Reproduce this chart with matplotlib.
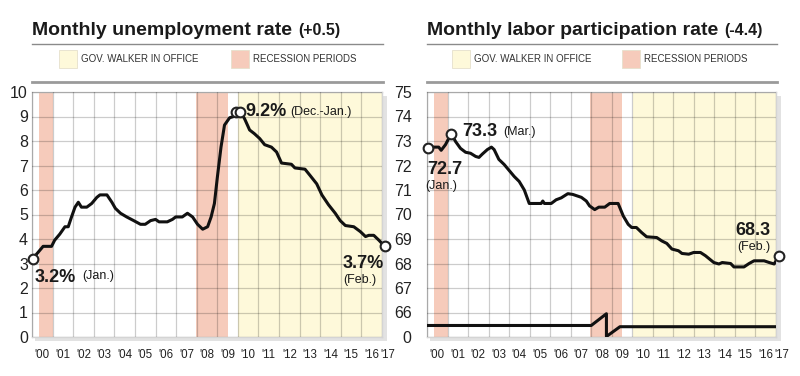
import matplotlib
matplotlib.use('Agg')
import matplotlib.pyplot as plt
from matplotlib import font_manager
from matplotlib.patches import Rectangle
from matplotlib.lines import Line2D
import matplotlib.transforms as mtransforms

# pick a narrow font if there is one
names = {f.name for f in font_manager.fontManager.ttflist}
NARROW = 'Liberation Sans Narrow' if 'Liberation Sans Narrow' in names else 'Liberation Sans'
plt.rcParams['font.family'] = [NARROW, 'DejaVu Sans']

# ---- data (decimal years) ----
unemp_years = [2000.04, 2000.54, 2000.95, 2001.10, 2001.35, 2001.60, 2001.76, 2001.92, 2002.09, 2002.25,
               2002.40, 2002.66, 2002.90, 2003.15, 2003.30, 2003.64, 2003.88, 2004.05, 2004.30, 2004.60,
               2004.94, 2005.27, 2005.50, 2005.76, 2006.00, 2006.17, 2006.57, 2006.82, 2006.98, 2007.30,
               2007.55, 2007.80, 2008.04, 2008.29, 2008.53, 2008.70, 2008.86, 2009.00, 2009.18, 2009.35,
               2009.60, 2009.80, 2009.93, 2010.12, 2010.33, 2010.57, 2010.80, 2011.06, 2011.30, 2011.63,
               2011.88, 2012.12, 2012.60, 2012.77, 2013.26, 2013.50, 2013.83, 2014.08, 2014.40, 2014.73,
               2014.97, 2015.22, 2015.63, 2015.95, 2016.20, 2016.36, 2016.60, 2016.85, 2017.13]
unemp_rate = [3.2, 3.7, 3.7, 3.95, 4.2, 4.5, 4.5, 4.9, 5.3, 5.5,
              5.3, 5.3, 5.45, 5.7, 5.8, 5.8, 5.5, 5.25, 5.05, 4.9,
              4.75, 4.6, 4.6, 4.75, 4.8, 4.7, 4.7, 4.8, 4.9, 4.9,
              5.05, 4.9, 4.6, 4.4, 4.5, 4.9, 5.45, 6.5, 7.75, 8.65,
              8.95, 9.0, 9.2, 9.2, 8.9, 8.45, 8.3, 8.1, 7.85, 7.75,
              7.55, 7.1, 7.05, 6.9, 6.85, 6.6, 6.25, 5.8, 5.4, 5.05,
              4.75, 4.55, 4.5, 4.3, 4.1, 4.15, 4.15, 3.95, 3.7]

labor_years = [2000.04, 2000.25, 2000.57, 2000.69, 2000.90, 2001.18, 2001.39, 2001.63, 2001.88, 2002.12,
               2002.37, 2002.53, 2002.70, 2002.94, 2003.14, 2003.27, 2003.50, 2003.76, 2004.00, 2004.25,
               2004.49, 2004.74, 2004.98, 2005.23, 2005.56, 2005.64, 2005.72, 2006.05, 2006.29, 2006.54,
               2006.86, 2007.10, 2007.52, 2007.76, 2007.92, 2008.17, 2008.37, 2008.66, 2008.90, 2009.31,
               2009.56, 2009.80, 2009.97, 2010.20, 2010.46, 2010.70, 2011.19, 2011.44, 2011.68, 2011.93,
               2012.25, 2012.42, 2012.75, 2012.99, 2013.32, 2013.56, 2013.97, 2014.22, 2014.38, 2014.79,
               2014.95, 2015.44, 2015.69, 2015.93, 2016.42, 2016.67, 2016.91, 2017.13]
labor_rate = [72.7, 72.75, 72.75, 72.62, 72.85, 73.3, 72.98, 72.7, 72.54, 72.5,
              72.37, 72.33, 72.47, 72.65, 72.75, 72.65, 72.25, 72.04, 71.8, 71.55,
              71.35, 71.0, 70.45, 70.45, 70.45, 70.55, 70.45, 70.45, 70.6, 70.68,
              70.85, 70.82, 70.7, 70.55, 70.35, 70.2, 70.3, 70.3, 70.45, 70.45,
              69.94, 69.6, 69.47, 69.47, 69.26, 69.09, 69.06, 68.92, 68.82, 68.59,
              68.52, 68.41, 68.38, 68.45, 68.45, 68.32, 68.04, 67.98, 68.04, 68.0,
              67.86, 67.86, 68.0, 68.11, 68.11, 68.04, 67.98, 68.3]

# axis break squiggle on the participation chart
break_x = [2000.0, 2008.0, 2008.74, 2008.74, 2009.4, 2017.0]
break_y = [65.47, 65.47, 65.95, 65.02, 65.42, 65.42]

recessions = [(2000.33, 2001.0), (2007.95, 2009.5)]
walker = (2010.02, 2017.0)

year_labels = ["'00", "'01", "'02", "'03", "'04", "'05", "'06", "'07", "'08",
               "'09", "'10", "'11", "'12", "'13", "'14", "'15", "'16", "'17"]
year_label_pos = [2000.5 + i for i in range(17)] + [2017.3]

unemp_ticks = list(range(0, 11))
unemp_ticklabels = [str(v) for v in unemp_ticks]
labor_ticks = list(range(65, 76))
labor_ticklabels = ['0'] + [str(v) for v in range(66, 76)]

YELLOW = '#FEF9DA'
SALMON = '#F6CBBB'

W, H = 800, 376
fig = plt.figure(figsize=(8, 3.76), dpi=100)


def px(x, y):
    # pixel (from top-left) to figure fraction
    return x / W, 1 - y / H


def draw_panel(left_px, right_px, title, change, yticks, yticklabels, ylim, years, vals, tickpad):
    top_px, bot_px = 92, 337
    l, b = px(left_px, bot_px)
    ax = fig.add_axes([l, b, (right_px - left_px) / W, (bot_px - top_px) / H])

    # drop shadow behind the frame
    shadow = Rectangle(px(left_px + 3, bot_px + 4), (right_px - left_px + 2) / W, (bot_px - top_px) / H,
                       transform=fig.transFigure, facecolor='#e2e2e2', edgecolor='none', zorder=-5)
    fig.patches.append(shadow)

    for a, c in recessions:
        ax.axvspan(a, c, color=SALMON, lw=0, zorder=1)
    ax.axvspan(walker[0], walker[1], color=YELLOW, lw=0, zorder=1)

    ax.set_xlim(2000, 2017)
    ax.set_ylim(*ylim)
    ax.set_xticks(range(2000, 2018))
    ax.set_xticklabels([])
    ax.set_yticks(yticks)
    ax.set_yticklabels(yticklabels, fontsize=11.5, color='#222222')
    ax.tick_params(axis='both', length=0)
    ax.tick_params(axis='y', pad=tickpad)
    ax.grid(True, color='black', alpha=0.2, lw=0.9, zorder=2)
    ax.set_axisbelow(False)
    for s in ax.spines.values():
        s.set_color('#d4d4d4')
        s.set_linewidth(1)

    ax.plot(years, vals, color='#111111', lw=2.2, zorder=4, solid_joinstyle='round')

    tr = mtransforms.blended_transform_factory(ax.transData, ax.transAxes)
    for pos, lab in zip(year_label_pos, year_labels):
        ax.text(pos, -0.075, lab, transform=tr, ha='center', va='center', fontsize=8.3,
                color='#222222', clip_on=False)

    # title and legend strip
    tx, ty = px(left_px, 35)
    t = fig.text(tx, ty, title, fontsize=14, fontweight='bold', color='#1a1a1a', va='baseline')
    fig.canvas.draw()
    bb = t.get_window_extent()
    fig.text(bb.x1 / W + 6 / W, ty, change, fontsize=11.5, fontweight='bold', color='#1a1a1a', va='baseline')

    x0, y0 = px(left_px, 44)
    x1, _ = px(right_px + 1, 44)
    fig.add_artist(Line2D([x0, x1], [y0, y0], color='#8a8a8a', lw=1, transform=fig.transFigure))
    _, y2 = px(0, 82)
    fig.add_artist(Line2D([x0, x1], [y2, y2], color='#9a9a9a', lw=2, transform=fig.transFigure))
    return ax


def legend_row(sq1, sq2):
    for sx, col, lab in [(sq1, YELLOW, 'GOV. WALKER IN OFFICE'), (sq2, SALMON, 'RECESSION PERIODS')]:
        fig.patches.append(Rectangle(px(sx, 68), 18 / W, 18 / H, transform=fig.transFigure,
                                     facecolor=col, edgecolor='#e6e0cc', lw=0.6))
        tx, ty = px(sx + 22, 59.5)
        fig.text(tx, ty, lab, fontsize=7, color='#333333', va='center')


ax1 = draw_panel(32, 382, 'Monthly unemployment rate', '(+0.5)', unemp_ticks, unemp_ticklabels,
                 (0, 10), unemp_years, unemp_rate, 3)
legend_row(59, 231)
ax2 = draw_panel(427, 776, 'Monthly labor participation rate', '(-4.4)', labor_ticks, labor_ticklabels,
                 (65, 75), labor_years, labor_rate, 11)
legend_row(452, 622)

ax2.plot(break_x, break_y, color='#111111', lw=2.2, zorder=4)

# end point markers
mk = dict(marker='o', ms=7, mfc='white', mec='#222222', mew=1.5, ls='none', zorder=5, clip_on=False)
ax1.plot([unemp_years[0], unemp_years[42], unemp_years[43], unemp_years[-1]],
         [unemp_rate[0], unemp_rate[42], unemp_rate[43], unemp_rate[-1]], **mk)
ax2.plot([labor_years[0], labor_years[5], labor_years[-1]],
         [labor_rate[0], labor_rate[5], labor_rate[-1]], **mk)

bold = dict(fontsize=13, fontweight='bold', color='#1a1a1a', va='baseline', zorder=6)
reg = dict(fontsize=9, color='#1a1a1a', va='baseline', zorder=6)

ax1.text(2000.15, 2.25, '3.2%', **bold)
ax1.text(2002.43, 2.35, '(Jan.)', **reg)
ax1.text(2010.34, 9.03, '9.2%', **bold)
ax1.text(2012.52, 9.08, '(Dec.-Jan.)', **reg)
ax1.text(2015.1, 2.83, '3.7%', **bold)
ax1.text(2015.1, 2.2, '(Feb.)', **reg)

ax2.text(2000.0, 71.64, '72.7', **bold)
ax2.text(1999.9, 71.05, '(Jan.)', **reg)
ax2.text(2001.7, 73.2, '73.3', **bold)
ax2.text(2003.7, 73.24, '(Mar.)', **reg)
ax2.text(2015.02, 69.16, '68.3', **bold)
ax2.text(2015.1, 68.55, '(Feb.)', **reg)

fig.savefig('out.png', dpi=100, facecolor='white')
